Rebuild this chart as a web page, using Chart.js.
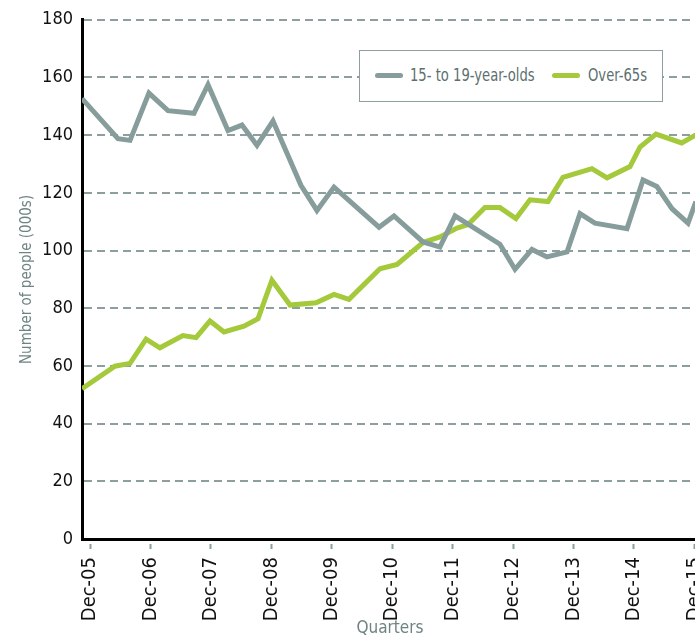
<!DOCTYPE html>
<html>
<head>
<meta charset="utf-8">
<script src="https://cdn.jsdelivr.net/npm/chart.js@4.4.1/dist/chart.umd.min.js"></script>
<style>
    html, body { margin: 0; padding: 0; background: #fff; }
    #wrap { position: relative; width: 695px; height: 639px; overflow: hidden; }
    #chart { position: absolute; left: 0; top: 0; }
    #legend {
        position: absolute; left: 359px; top: 50px; width: 304px; height: 52px;
        box-sizing: border-box; border: 1.5px solid #8c9e9e; background: #fff;
        font-family: 'Liberation Sans Narrow', 'Arial Narrow', 'DejaVu Sans Condensed', sans-serif;
        font-size: 17px; color: #5d6f6f;
    }
    .key { position: absolute; top: 22px; width: 28px; height: 5px; border-radius: 3px; }
    .lbl {
        position: absolute; top: 0; line-height: 49px; white-space: nowrap;
        transform: scaleX(0.86); transform-origin: left center;
    }
</style>
</head>
<body>
<div id="wrap">
    <canvas id="chart" width="730" height="639"></canvas>
    <div id="legend"></div>
</div>
<script>
const tickLabels = ['Dec-05', 'Dec-06', 'Dec-07', 'Dec-08', 'Dec-09', 'Dec-10',
                    'Dec-11', 'Dec-12', 'Dec-13', 'Dec-14', 'Dec-15'];
const seriesNames = ['15- to 19-year-olds', 'Over-65s'];

// x = quarters counted from Dec-05, y = thousands of people
const teenQuarters = [-0.53, 1.85, 2.65, 3.90, 5.16, 6.88, 7.81, 9.13, 10.06, 11.05,
                      12.11, 13.96, 15.02, 16.15, 19.13, 20.12, 22.04, 23.16, 24.16, 25.15,
                      27.13, 28.13, 29.25, 30.24, 31.57, 32.43, 33.42, 35.54, 36.60, 37.52,
                      38.52, 39.58, 40.10];
const teenValues = [152.7, 138.8, 138.2, 154.6, 148.5, 147.6, 157.5, 141.6, 143.5, 136.5,
                    144.9, 122.6, 113.9, 122.0, 108.1, 112.0, 103.0, 101.2, 112.0, 108.7,
                    102.2, 93.5, 100.4, 97.8, 99.5, 112.8, 109.5, 107.6, 124.5, 122.2,
                    114.5, 109.5, 117.0];

const olderQuarters = [-0.53, 1.65, 2.65, 3.71, 4.63, 6.15, 7.02, 7.94, 8.87, 10.19,
                       11.12, 12.04, 13.24, 14.96, 16.15, 17.14, 19.19, 20.32, 22.04, 23.16,
                       24.29, 25.02, 26.14, 27.13, 28.19, 29.12, 30.31, 31.30, 33.22, 34.22,
                       35.74, 36.40, 37.46, 39.16, 40.10];
const olderValues = [52.1, 59.9, 60.9, 69.3, 66.3, 70.5, 69.8, 75.6, 71.8, 73.8,
                     76.4, 89.7, 81.1, 81.9, 84.8, 83.1, 93.7, 95.2, 102.8, 104.7,
                     107.8, 109.0, 114.9, 114.9, 111.1, 117.6, 117.0, 125.4, 128.4, 125.2,
                     129.1, 135.9, 140.4, 137.3, 140.1];

const tickQuarters = tickLabels.map((_, i) => i * 4);

const GREY = '#879d9b';
const GREEN = '#a4c93a';
const GRID = '#8c9e9e';
const TITLE = '#6f8383';

Chart.defaults.font.family = "'Liberation Sans Narrow', 'Arial Narrow', 'DejaVu Sans Condensed', sans-serif";

const toPoints = (qs, vals) => qs.map((q, i) => ({ x: q, y: vals[i] }));

const chart = new Chart(document.getElementById('chart'), {
    type: 'line',
    data: {
        datasets: [
            { label: seriesNames[0], data: toPoints(teenQuarters, teenValues),
              borderColor: GREY, borderWidth: 5, pointRadius: 0, tension: 0 },
            { label: seriesNames[1], data: toPoints(olderQuarters, olderValues),
              borderColor: GREEN, borderWidth: 5, pointRadius: 0, tension: 0 }
        ]
    },
    options: {
        responsive: false,
        animation: false,
        // right padding leaves room for the rotated last label, canvas runs past the window
        layout: { padding: { left: 0, right: 32, top: 19, bottom: 0 } },
        plugins: { legend: { display: false }, tooltip: { enabled: false } },
        scales: {
            x: {
                type: 'linear',
                min: -0.53,
                max: 40.24,
                afterBuildTicks: (scale) => { scale.ticks = tickQuarters.map(v => ({ value: v })); },
                afterFit: (scale) => { scale.height = 100; },
                ticks: {
                    autoSkip: false, minRotation: 90, maxRotation: 90, padding: 8,
                    color: '#111', font: { size: 20 },
                    callback: (value, index) => tickLabels[index]
                },
                grid: {
                    drawOnChartArea: false, drawTicks: true, tickLength: 10,
                    tickColor: GRID, tickWidth: 2, tickBorderDash: [0, 3, 8, 20]
                },
                border: { color: '#000', width: 3 },
                title: { display: true, text: 'Quarters', color: TITLE, font: { size: 17 }, padding: 0 }
            },
            y: {
                min: 0,
                max: 180,
                afterFit: (scale) => { scale.width = 82; },
                ticks: { stepSize: 20, padding: 9, color: '#111', font: { size: 18 } },
                grid: { drawTicks: false, color: GRID, lineWidth: 2 },
                border: { color: '#000', width: 3, dash: [8, 5] },
                title: {
                    display: true, text: 'Number of people (000s)', color: TITLE,
                    font: { size: 15 }, padding: { top: 18, bottom: 0 }
                }
            }
        }
    }
});

// legend box drawn as html, built from the dataset names and colours
const legend = document.getElementById('legend');
const keyLeft = [14.5, 191.5];
const lblLeft = [49.5, 227.5];
chart.data.datasets.forEach((ds, i) => {
    const key = document.createElement('div');
    key.className = 'key';
    key.style.left = keyLeft[i] + 'px';
    key.style.background = ds.borderColor;
    const lbl = document.createElement('div');
    lbl.className = 'lbl';
    lbl.style.left = lblLeft[i] + 'px';
    lbl.textContent = ds.label;
    legend.appendChild(key);
    legend.appendChild(lbl);
});
</script>
</body>
</html>
